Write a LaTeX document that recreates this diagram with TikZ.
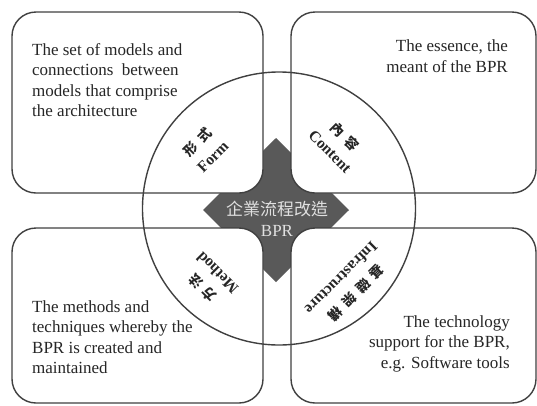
\documentclass[tikz,border=0pt]{standalone}
\usepackage{fontspec}
\setmainfont{Liberation Serif}
\newfontfamily\cjk{Noto Sans CJK TC}
\usetikzlibrary{positioning}
\definecolor{bprline}{HTML}{404040}
\definecolor{bprhub}{HTML}{595959}
\definecolor{bprtext}{HTML}{262626}
\definecolor{bprlight}{HTML}{E0E0E0}
% spaced CJK caption for the rotated labels
\newcommand{\lblcjk}[1]{{\cjk\fontsize{13.5}{21}\selectfont #1}}

\begin{document}
\begin{tikzpicture}[
  x=1pt, y=-1pt,
  every node/.style={inner sep=0pt, text=bprtext},
  quad/.style 2 args={rectangle, rounded corners=24pt, draw=bprline, fill=white, line width=1.4pt, minimum width=#1, minimum height=#2},
  note/.style={font=\fontsize{17}{20.5}\selectfont},
  aspect/.style={rotate=#1, align=center, font=\fontsize{15.5}{21}\selectfont\bfseries},
]
\useasboundingbox (0,0) rectangle (537,405);

% dark hub behind the four panels
\fill[bprhub] (276,138) -- (349,210) -- (276,282) -- (203,210) -- cycle;

\node[quad={251pt}{181pt}] (form)    at (137.5,102.5) {};
\node[quad={245pt}{181pt}] (content) at (413.5,102.5) {};
\node[quad={251pt}{175pt}] (method)  at (137.5,315.5) {};
\node[quad={245pt}{175pt}] (infra)   at (413.5,315.5) {};

\node[circle, draw=bprline, line width=1.4pt, minimum size=273pt] (ring) at (279,208.5) {};

\node[text=bprlight, align=center, font=\fontsize{17}{21}\selectfont] (hub) at (277,219) {{\cjk 企業流程改造}\\BPR};

% descriptions
\node[note, align=left, anchor=north west] (formnote) at (32,43)
  {The set of models and\\connections\ \ between\\models that comprise\\the architecture};
\node[note, align=right, anchor=north east] (contentnote) at (508,40)
  {The essence, the\\meant of the BPR};
\node[note, align=left, anchor=north west] (methodnote) at (32,300)
  {The methods and\\techniques whereby the\\BPR is created and\\maintained};
\node[note, align=right, anchor=north east] (infranote) at (510,315)
  {The technology\\support for the BPR,\\e.g. Software tools};

% rotated labels around the hub
\node[aspect=45]  (formlbl)    at (205,149)   {\lblcjk{形\hspace{6pt}式}\\Form};
\node[aspect=-45] (contentlbl) at (338,143.5) {\lblcjk{內\hspace{6pt}容}\\Content};
\node[aspect=135] (methodlbl)  at (209.5,281) {\lblcjk{方\hspace{6pt}法}\\Method};
\node[aspect=225] (infralbl)   at (349,286)   {\lblcjk{基\hspace{6pt}礎\hspace{6pt}架\hspace{6pt}構}\\Infrastructure};
\end{tikzpicture}
\end{document}
